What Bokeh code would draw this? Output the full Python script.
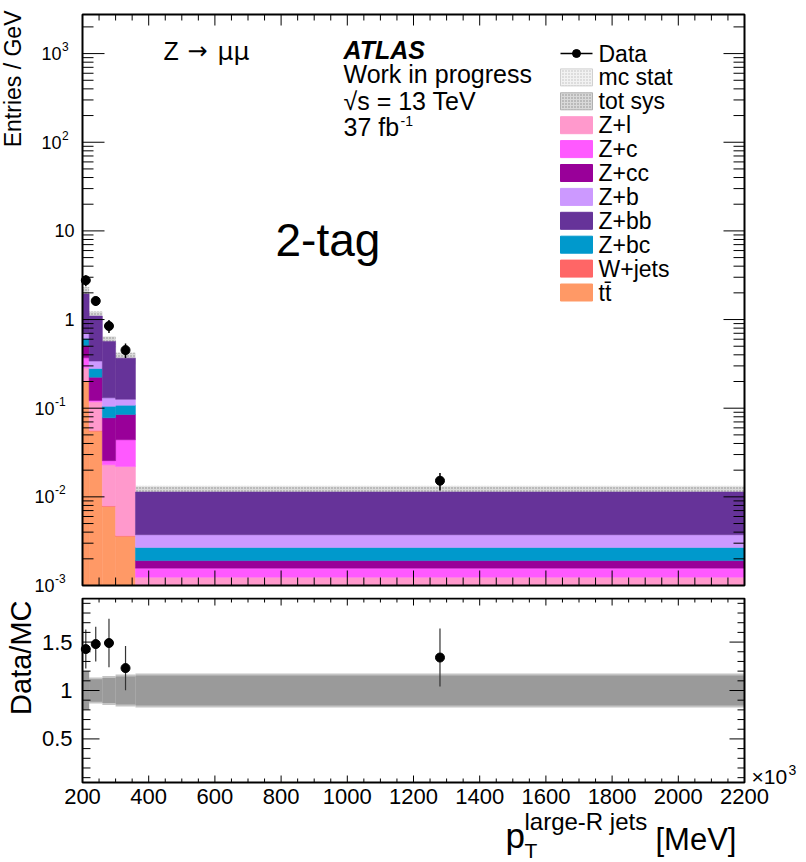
import numpy as np
from bokeh.plotting import figure
from bokeh.layouts import column
from bokeh.models import Label
from bokeh.core.properties import value
from bokeh.embed import file_html
from bokeh.resources import INLINE

# ---------------- data ----------------
# bin edges of the large-R jet pT (GeV, axis shown as MeV x10^3)
bin_edges = [200, 220, 260, 300, 360, 2200]

# stacked backgrounds, entries / GeV, listed bottom -> top of the stack
ttbar = [0.20, 0.055, 0.0078, 0.0036, 0.0005]
wjets = [0.003, 0.001, 0.0001, 0.00005, 0.00002]
z_l = [0.082, 0.062, 0.0151, 0.0184, 0.00072]
z_c = [0.085, 0.004, 0.0026, 0.022, 0.00033]
z_cc = [0.14, 0.102, 0.0524, 0.041, 0.00034]
z_bc = [0.10, 0.056, 0.027, 0.023, 0.00078]
z_b = [0.10, 0.06, 0.026, 0.018, 0.00105]
z_bb = [1.23, 0.755, 0.436, 0.241, 0.0076]

data_val = [2.77, 1.62, 0.845, 0.452, 0.0152]
data_err = [0.39, 0.197, 0.142, 0.084, 0.0034]

# relative uncertainties on the total prediction
stat_rel = [0.20, 0.135, 0.15, 0.165, 0.175]
sys_rel = [0.20, 0.115, 0.13, 0.145, 0.155]

x_major = list(range(200, 2201, 200))
x_minor = [v for v in range(250, 2200, 50) if v % 200]
x_labels = [str(v) for v in x_major]
log_major = [1e-3, 1e-2, 1e-1, 1, 10, 100, 1000]
log_minor = [m * 10.0 ** k for k in range(-3, 4) for m in range(2, 10)]
ratio_major = [0.5, 1.0, 1.5]
ratio_labels = ["0.5", "1", "1.5"]
ratio_minor = [round(0.1 * i, 1) for i in range(1, 20) if i not in (5, 10, 15)]

legend_order = ["Data", "mc stat", "tot sys", "Z+l", "Z+c", "Z+cc", "Z+b",
                "Z+bb", "Z+bc", "W+jets", "t\u0074\u0304"]

# ---------------- geometry ----------------
FONT = "Liberation Sans"
SYMBOL_FONT = "DejaVu Sans"
W = 806
L, R = 82, 62                 # panel box left / right margins (px)
FW = W - L - R
X0, X1 = 200, 2200
Y0, Y1 = 1e-3, 2760.0
R0, R1 = 0.05, 1.95
TOP_H, TOP_T, TOP_B = 597, 14, 12
FH_TOP = TOP_H - TOP_T - TOP_B
BOT_H, BOT_T, BOT_B = 265, 1, 80
FH_BOT = BOT_H - BOT_T - BOT_B
BOT_Y = TOP_H                  # page y where the ratio canvas starts

PPX = (X1 - X0) / FW           # x data units per pixel
LY0, LY1 = np.log10(Y0), np.log10(Y1)
PLOG = (LY1 - LY0) / FH_TOP    # decades per pixel
PR = (R1 - R0) / FH_BOT        # ratio units per pixel


def X(px):
    return X0 + (px - L) * PPX


def YT(py):
    return 10 ** (LY1 - (py - TOP_T) * PLOG)


def YB(py):
    return R1 - (py - BOT_Y - BOT_T) * PR


def add_text(fig, px, y, text, size, align="left", style="normal", angle=0.0,
             font=FONT):
    # y is the vertical centre of the capital letters
    fig.add_layout(Label(x=X(px), y=y, text=text, text_font=font,
                         text_font_size=f"{size}px", text_font_style=style,
                         text_align=align, text_baseline="middle",
                         text_color="black", angle=angle))


def new_canvas(h, yr, log=False):
    f = figure(width=W, height=h,
               x_range=(X0 - L * PPX, X1 + R * PPX), y_range=yr,
               y_axis_type="log" if log else "linear",
               x_axis_location=None, y_axis_location=None,
               min_border=0, output_backend="svg", toolbar_location=None)
    f.grid.visible = False
    f.outline_line_color = None
    f.background_fill_color = "white"
    f.border_fill_color = "white"
    return f


def tick_marks(f, x0, y0, x1, y1, lw=1):
    f.segment(x0=x0, y0=y0, x1=x1, y1=y1, line_color="black", line_width=lw)


lefts = np.array(bin_edges[:-1], dtype=float)
rights = np.array(bin_edges[1:], dtype=float)
centres = 0.5 * (lefts + rights)

components = [
    ("t\u0074\u0304", ttbar, "#ff9966"),
    ("W+jets", wjets, "#ff6666"),
    ("Z+l", z_l, "#ff99cc"),
    ("Z+c", z_c, "#ff59ff"),
    ("Z+cc", z_cc, "#990099"),
    ("Z+bc", z_bc, "#0099cc"),
    ("Z+b", z_b, "#cc99ff"),
    ("Z+bb", z_bb, "#663399"),
]
comp_color = {n: c for n, _, c in components}
mc_total = np.sum([np.array(c[1]) for c in components], axis=0)
data = np.array(data_val)
derr = np.array(data_err)
stat = np.array(stat_rel)
sysr = np.array(sys_rel)

STAT_STYLE = dict(fill_color="#f2f2f2", line_color=None, hatch_pattern="dot",
                  hatch_color="#bdbdbd", hatch_scale=3, hatch_weight=1)
SYS_STYLE = dict(fill_color="#d9d9d9", line_color=None, hatch_pattern="dot",
                 hatch_color="#8c8c8c", hatch_scale=3, hatch_weight=1)

# ---------------- main panel ----------------
p = new_canvas(TOP_H, (10 ** (LY0 - TOP_B * PLOG), 10 ** (LY1 + TOP_T * PLOG)),
               log=True)

p.quad(left=lefts, right=rights, bottom=mc_total * (1 - stat),
       top=mc_total * (1 + stat), **STAT_STYLE)
p.quad(left=lefts, right=rights, bottom=mc_total * (1 - sysr),
       top=mc_total * (1 + sysr), **SYS_STYLE)

cum = np.zeros(len(lefts))
for name, vals, color in components:
    nxt = cum + np.array(vals)
    p.quad(left=lefts, right=rights, bottom=np.maximum(cum, Y0),
           top=np.maximum(nxt, Y0), fill_color=color, line_color=color,
           line_width=0.5)
    cum = nxt

p.segment(x0=centres, y0=data - derr, x1=centres, y1=data + derr,
          line_color="black", line_width=1.5)
p.scatter(x=centres, y=data, size=9, marker="circle", fill_color="black",
          line_color="black")

# ticks (inward, on all four sides)
lm = np.array(log_major, dtype=float)
ln = np.array([v for v in log_minor if Y0 < v < Y1])
xM = np.array(x_major, dtype=float)
xm = np.array(x_minor, dtype=float)
tick_marks(p, np.full(lm.size, X0), lm, np.full(lm.size, X0 + 22 * PPX), lm)
tick_marks(p, np.full(ln.size, X0), ln, np.full(ln.size, X0 + 11 * PPX), ln)
tick_marks(p, np.full(lm.size, X1 - 21 * PPX), lm, np.full(lm.size, X1), lm)
tick_marks(p, np.full(ln.size, X1 - 11 * PPX), ln, np.full(ln.size, X1), ln)
tick_marks(p, xM, np.full(xM.size, Y0), xM, np.full(xM.size, Y0 * 10 ** (15 * PLOG)))
tick_marks(p, xm, np.full(xm.size, Y0), xm, np.full(xm.size, Y0 * 10 ** (8 * PLOG)))
tick_marks(p, xM, np.full(xM.size, Y1 / 10 ** (11 * PLOG)), xM, np.full(xM.size, Y1))
tick_marks(p, xm, np.full(xm.size, Y1 / 10 ** (6 * PLOG)), xm, np.full(xm.size, Y1))
p.quad(left=[X0], right=[X1], bottom=[Y0], top=[Y1], fill_color=None,
       line_color="black", line_width=2)

# decade labels of the log axis
for v in log_major:
    k = int(round(np.log10(v)))
    ty = TOP_T + (LY1 - np.log10(v)) / PLOG
    if k == 0:
        add_text(p, 74, v, "1", 18, align="right")
    elif k == 1:
        add_text(p, 74, v, "10", 18, align="right")
    else:
        xr = 61 if k > 0 else 54
        add_text(p, xr, v, "10", 18, align="right")
        add_text(p, xr + 0.5, YT(ty - 7), str(k), 12)

add_text(p, 12, YT(10), "Entries / GeV", 23, align="right", angle=np.pi / 2)

# physics labels
add_text(p, 163, YT(50.5), "Z", 25)
add_text(p, 187, YT(50.5), "\u2192", 24, font=SYMBOL_FONT)
add_text(p, 217, YT(50.5), "\u03bc\u03bc", 25, font=SYMBOL_FONT)
add_text(p, 343, YT(49.5), "ATLAS", 25, style="bold italic")
add_text(p, 343, YT(73), "Work in progress", 25)
add_text(p, 343, YT(100), "\u221as = 13 TeV", 25)
add_text(p, 343, YT(126), "37 fb", 25)
add_text(p, 400, YT(120), "-1", 14)
add_text(p, 275, YT(239), "2-tag", 46)

# legend: one row per entry, swatch + text
LEG_X0, LEG_X1, LEG_TXT = 560, 592, 598
LEG_Y, LEG_DY, LEG_BOX = 53, 23.9, 17
for i, name in enumerate(legend_order):
    cy = LEG_Y + i * LEG_DY
    if name == "Data":
        p.segment(x0=[X(LEG_X0)], y0=[YT(cy)], x1=[X(LEG_X1)], y1=[YT(cy)],
                  line_color="black", line_width=1.5)
        p.scatter(x=[X((LEG_X0 + LEG_X1) / 2)], y=[YT(cy)], size=8,
                  marker="circle", fill_color="black", line_color="black")
    else:
        if name == "mc stat":
            style = dict(STAT_STYLE, line_color="#d0d0d0")
        elif name == "tot sys":
            style = dict(SYS_STYLE, line_color="#b0b0b0")
        else:
            style = dict(fill_color=comp_color[name], line_color=comp_color[name])
        p.quad(left=[X(LEG_X0)], right=[X(LEG_X1)],
               bottom=[YT(cy + LEG_BOX / 2)], top=[YT(cy - LEG_BOX / 2)],
               **style)
    add_text(p, LEG_TXT, YT(cy), name, 23)

# ---------------- ratio panel ----------------
q = new_canvas(BOT_H, (R0 - BOT_B * PR, R1 + BOT_T * PR))

q.quad(left=lefts, right=rights, bottom=1 - stat, top=1 + stat,
       fill_color="#c4c4c4", line_color=None)
q.quad(left=lefts, right=rights, bottom=1 - sysr, top=1 + sysr,
       fill_color="#9a9a9a", line_color=None)

ratio = data / mc_total
ratio_err = derr / mc_total
q.segment(x0=centres, y0=ratio - ratio_err, x1=centres, y1=ratio + ratio_err,
          line_color="#333333", line_width=1.2)
q.scatter(x=centres, y=ratio, size=9, marker="circle", fill_color="black",
          line_color="black")

rM = np.array(ratio_major)
rm = np.array(ratio_minor)
tick_marks(q, np.full(rM.size, X0), rM, np.full(rM.size, X0 + 17 * PPX), rM)
tick_marks(q, np.full(rm.size, X0), rm, np.full(rm.size, X0 + 8 * PPX), rm)
tick_marks(q, np.full(rM.size, X1 - 15 * PPX), rM, np.full(rM.size, X1), rM)
tick_marks(q, np.full(rm.size, X1 - 7 * PPX), rm, np.full(rm.size, X1), rm)
tick_marks(q, xM, np.full(xM.size, R0), xM, np.full(xM.size, R0 + 7 * PR))
tick_marks(q, xm, np.full(xm.size, R0), xm, np.full(xm.size, R0 + 4 * PR))
tick_marks(q, xM, np.full(xM.size, R1 - 7 * PR), xM, np.full(xM.size, R1))
tick_marks(q, xm, np.full(xm.size, R1 - 4 * PR), xm, np.full(xm.size, R1))
q.quad(left=[X0], right=[X1], bottom=[R0], top=[R1], fill_color=None,
       line_color="black", line_width=2)

# tick labels
q.text(x=np.full(rM.size, X(72)), y=rM, text=ratio_labels,
       text_font=value(FONT), text_font_size=value("22px"),
       text_align="right", text_baseline="middle", text_color="black")
q.text(x=xM, y=np.full(xM.size, YB(796)), text=x_labels,
       text_font=value(FONT), text_font_size=value("22px"),
       text_align="center", text_baseline="middle", text_color="black")

add_text(q, 20, YB(600), "Data/MC", 29, align="right", angle=np.pi / 2)
add_text(q, 751, YB(776), "\u00d710", 21)
add_text(q, 788, YB(769), "3", 14)

# x-axis title: p_T^{large-R jets} [MeV]
add_text(q, 505, YB(835), "p", 35)
add_text(q, 524, YB(850), "T", 21)
add_text(q, 524, YB(821), "large-R jets", 24)
add_text(q, 655, YB(839), "[MeV]", 31)

layout = column(p, q, spacing=0)
open("out.html", "w").write(file_html(layout, INLINE))
